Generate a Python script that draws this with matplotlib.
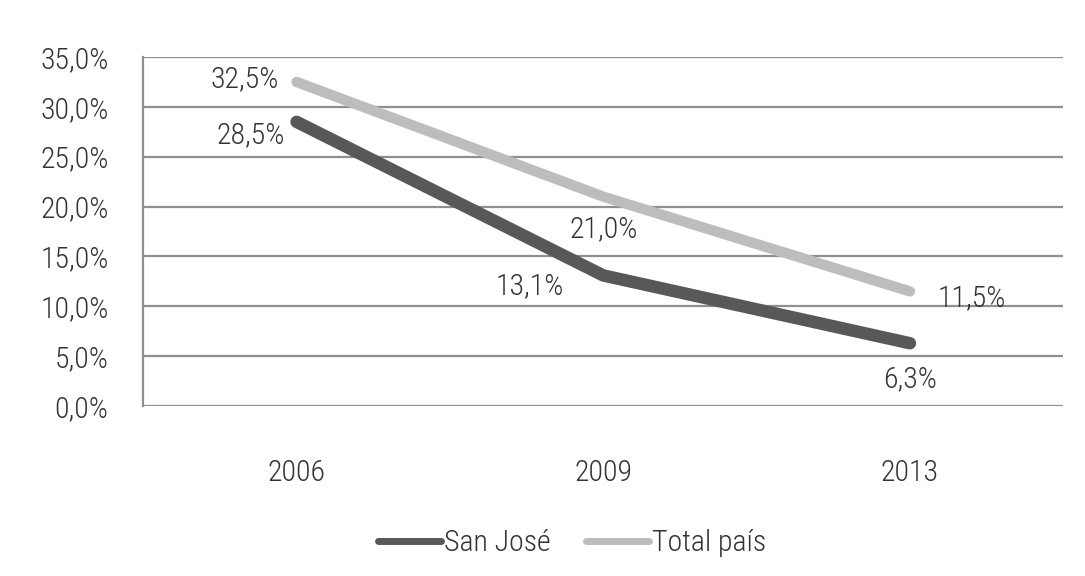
import matplotlib.pyplot as plt
from matplotlib import font_manager

years = ["2006", "2009", "2013"]
san_jose = [28.5, 13.1, 6.3]
total_pais = [32.5, 21.0, 11.5]
yticks = [0, 5, 10, 15, 20, 25, 30, 35]

names = {f.name for f in font_manager.fontManager.ttflist}
fam = "DejaVu Sans"
for cand in ["Liberation Sans Narrow", "Roboto Condensed", "Open Sans Condensed", "Lato", "Roboto"]:
    if cand in names:
        fam = cand
        break
plt.rcParams["font.family"] = [fam, "DejaVu Sans"]
plt.rcParams["font.weight"] = "light"

dark = "#58585a"
light = "#bdbdbd"
txt = "#333333"
fs = 21.5

fig = plt.figure(figsize=(10.85, 5.76), dpi=100)
ax = fig.add_axes([0.132, 0.295, 0.848, 0.606])

x = list(range(len(years)))
ax.plot(x, san_jose, color=dark, lw=9, solid_capstyle="round", label="San José", zorder=3)
ax.plot(x, total_pais, color=light, lw=7.5, solid_capstyle="round", label="Total país", zorder=3)

ax.set_xlim(-0.5, 2.5)
ax.set_ylim(0, 35)
ax.set_yticks(yticks)
ax.set_yticklabels([f"{v:.1f}%".replace(".", ",") for v in yticks])
ax.set_xticks(x)
ax.set_xticklabels(years)
ax.tick_params(axis="both", length=0, labelsize=fs, colors=txt)
ax.tick_params(axis="y", pad=25)
ax.tick_params(axis="x", pad=38)
ax.grid(axis="y", color="#8f8f8f", lw=1.6, zorder=0)
for s in ["top", "right", "bottom"]:
    ax.spines[s].set_visible(False)
ax.spines["left"].set_color("#8f8f8f")
ax.spines["left"].set_linewidth(1.6)

def fmt(v):
    return f"{v:.1f}%".replace(".", ",")

# data labels
offs_sj = [(-0.15, -1.3), (-0.24, -1.1), (0.0, -3.6)]
offs_tp = [(-0.17, 0.3), (0.0, -3.3), (0.2, -0.7)]
for i, (dx, dy) in enumerate(offs_sj):
    ax.text(x[i] + dx, san_jose[i] + dy, fmt(san_jose[i]), ha="center", va="center", fontsize=fs, color=txt)
for i, (dx, dy) in enumerate(offs_tp):
    ax.text(x[i] + dx, total_pais[i] + dy, fmt(total_pais[i]), ha="center", va="center", fontsize=fs, color=txt)

leg = fig.legend(loc="center", bbox_to_anchor=(0.527, 0.057), ncol=2, frameon=False,
                 fontsize=fs, handlelength=2.1, handletextpad=0.1, columnspacing=1.2,
                 labelcolor=txt)
for h in leg.get_lines():
    h.set_linewidth(5)

fig.savefig("out.png", dpi=100, facecolor="white")
